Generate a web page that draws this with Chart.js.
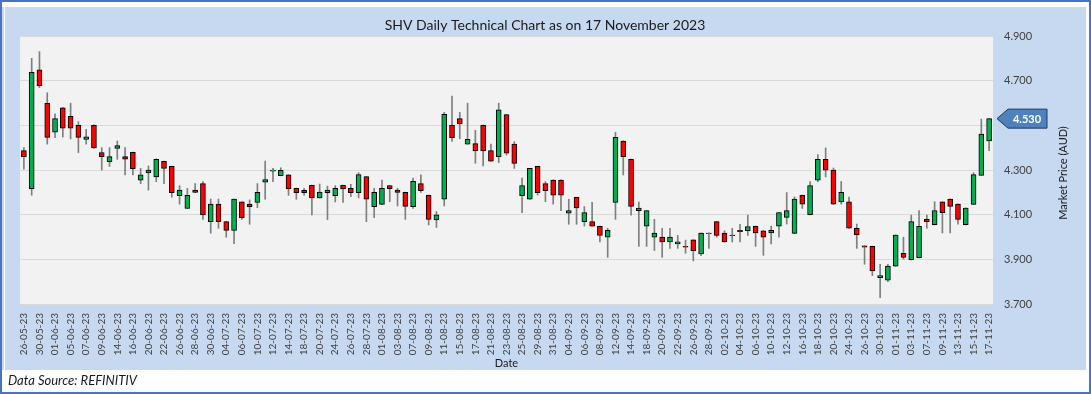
<!DOCTYPE html>
<html>
<head>
<meta charset="utf-8">
<script src="https://cdn.jsdelivr.net/npm/chart.js@4.4.0/dist/chart.umd.min.js"></script>
<style>
  html, body { margin: 0; padding: 0; background: #fff; }
</style>
</head>
<body>
<canvas id="chart" width="1091" height="394"></canvas>
<script>
// trading days, 26 May - 17 Nov 2023
const dates = [
  "26-05-23","29-05-23","30-05-23","31-05-23",
  "01-06-23","02-06-23","05-06-23","06-06-23","07-06-23","08-06-23","09-06-23","13-06-23","14-06-23","15-06-23",
  "16-06-23","19-06-23","20-06-23","21-06-23","22-06-23","23-06-23","26-06-23","27-06-23","28-06-23","29-06-23","30-06-23",
  "03-07-23","04-07-23","05-07-23","06-07-23","07-07-23","10-07-23","11-07-23","12-07-23","13-07-23","14-07-23","17-07-23",
  "18-07-23","19-07-23","20-07-23","21-07-23","24-07-23","25-07-23","26-07-23","27-07-23","28-07-23","31-07-23",
  "01-08-23","02-08-23","03-08-23","04-08-23","07-08-23","08-08-23","09-08-23","10-08-23","11-08-23","14-08-23","15-08-23",
  "16-08-23","17-08-23","18-08-23","21-08-23","22-08-23","23-08-23","24-08-23","25-08-23","28-08-23","29-08-23","30-08-23","31-08-23",
  "01-09-23","04-09-23","05-09-23","06-09-23","07-09-23","08-09-23","11-09-23","12-09-23","13-09-23","14-09-23","15-09-23",
  "18-09-23","19-09-23","20-09-23","21-09-23","22-09-23","25-09-23","26-09-23","27-09-23","28-09-23","29-09-23",
  "02-10-23","03-10-23","04-10-23","05-10-23","06-10-23","09-10-23","10-10-23","11-10-23","12-10-23","13-10-23","16-10-23",
  "17-10-23","18-10-23","19-10-23","20-10-23","23-10-23","24-10-23","25-10-23","26-10-23","27-10-23","30-10-23","31-10-23",
  "01-11-23","02-11-23","03-11-23","06-11-23","07-11-23","08-11-23","09-11-23","10-11-23","13-11-23","14-11-23","15-11-23",
  "16-11-23","17-11-23"
];

const open = [
  4.387,4.216,4.748,4.599,4.469,4.578,4.540,4.500,4.437,4.500,4.378,4.337,4.397,4.360,4.379,4.255,
  4.287,4.269,4.339,4.316,4.185,4.128,4.210,4.239,4.069,4.147,4.069,4.030,4.157,4.147,4.155,
  4.246,4.295,4.275,4.278,4.218,4.209,4.231,4.175,4.199,4.185,4.231,4.218,4.199,4.270,4.136,4.146,
  4.230,4.210,4.200,4.136,4.239,4.187,4.077,4.169,4.501,4.530,4.416,4.418,4.500,4.387,4.360,
  4.548,4.416,4.185,4.169,4.316,4.239,4.255,4.255,4.107,4.178,4.069,4.069,4.048,3.999,4.155,
  4.430,4.348,4.118,4.048,3.999,4.000,3.978,3.969,3.958,3.987,3.924,4.015,4.069,4.018,4.009,4.030,
  4.028,4.048,4.028,4.018,4.048,4.088,4.016,4.187,4.100,4.255,4.348,4.300,4.157,4.157,4.039,
  3.960,3.958,3.818,3.807,3.869,3.927,3.898,3.907,4.079,4.055,4.157,4.170,4.147,4.055,4.146,4.276,4.430
];
const high = [
  4.400,4.800,4.830,4.646,4.552,4.580,4.599,4.516,4.482,4.502,4.400,4.400,4.430,4.400,4.380,4.307,
  4.318,4.350,4.340,4.317,4.230,4.218,4.239,4.248,4.170,4.170,4.070,4.170,4.157,4.166,4.239,
  4.340,4.307,4.310,4.279,4.219,4.218,4.232,4.237,4.228,4.230,4.232,4.236,4.288,4.271,4.218,4.255,
  4.231,4.218,4.201,4.264,4.278,4.188,4.114,4.558,4.631,4.558,4.599,4.478,4.501,4.416,4.599,
  4.549,4.427,4.264,4.308,4.317,4.248,4.256,4.256,4.169,4.179,4.136,4.155,4.049,4.039,4.469,
  4.431,4.349,4.157,4.119,4.079,4.039,4.039,4.007,3.986,3.988,4.019,4.019,4.070,4.028,4.039,4.057,
  4.098,4.049,4.029,4.049,4.110,4.199,4.179,4.188,4.248,4.369,4.399,4.309,4.249,4.179,4.058,
  3.961,3.959,3.878,3.878,4.010,3.999,4.098,4.118,4.098,4.158,4.158,4.171,4.148,4.131,4.288,4.528,4.530
];
const low = [
  4.304,4.187,4.669,4.416,4.445,4.448,4.439,4.378,4.416,4.397,4.300,4.316,4.348,4.278,4.278,4.239,
  4.210,4.248,4.239,4.178,4.147,4.127,4.199,4.079,4.017,4.039,3.999,3.970,4.079,4.057,4.131,
  4.169,4.248,4.274,4.187,4.169,4.187,4.099,4.174,4.078,4.157,4.155,4.181,4.175,4.069,4.087,4.145,
  4.158,4.139,4.079,4.128,4.200,4.054,4.043,4.139,4.428,4.440,4.415,4.330,4.318,4.338,4.333,
  4.367,4.307,4.109,4.168,4.188,4.158,4.147,4.118,4.057,4.057,4.049,4.047,3.978,3.909,4.079,
  4.278,4.098,3.958,3.958,3.939,3.909,3.949,3.949,3.927,3.893,3.916,3.949,3.999,3.977,3.978,3.978,
  4.007,3.958,3.918,3.969,3.999,4.058,4.015,4.128,4.099,4.248,4.269,4.146,4.147,4.038,3.949,
  3.878,3.827,3.728,3.800,3.868,3.901,3.897,3.906,4.039,4.054,4.018,4.018,4.058,4.054,4.145,4.275,4.387
];
const close = [
  4.360,4.737,4.676,4.446,4.530,4.487,4.487,4.446,4.448,4.399,4.360,4.360,4.409,4.348,4.306,4.278,
  4.300,4.348,4.307,4.199,4.210,4.187,4.200,4.099,4.147,4.069,4.030,4.170,4.087,4.136,4.200,
  4.257,4.300,4.298,4.215,4.199,4.199,4.175,4.201,4.210,4.218,4.215,4.199,4.279,4.169,4.200,4.218,
  4.216,4.200,4.137,4.249,4.207,4.079,4.099,4.549,4.445,4.507,4.437,4.385,4.385,4.339,4.569,
  4.375,4.330,4.230,4.307,4.199,4.207,4.187,4.187,4.118,4.130,4.109,4.048,4.007,4.030,4.446,
  4.360,4.137,4.130,4.118,4.018,3.978,4.000,3.978,3.955,3.939,4.018,4.018,4.007,3.978,4.006,4.024,
  4.047,4.018,3.999,4.030,4.109,4.118,4.170,4.147,4.230,4.348,4.299,4.147,4.200,4.039,4.009,
  3.955,3.848,3.827,3.870,4.009,3.909,4.069,4.048,4.069,4.118,4.109,4.137,4.079,4.130,4.279,4.461,4.530
];

const yTicks = [3.7, 3.9, 4.1, 4.3, 4.5, 4.7, 4.9];

const UP = "#00b050";
const DOWN = "#ff0000";
const FONT = "Lato";
const lastClose = close[close.length - 1];

// background panel, plot fill and the extra texts
const framePlugin = {
  id: "frame",
  beforeDraw(chart) {
    const { ctx, chartArea } = chart;
    ctx.save();
    ctx.fillStyle = "#ffffff";
    ctx.fillRect(0, 0, chart.width, chart.height);
    ctx.fillStyle = "#c6d9f1";
    ctx.fillRect(5, 7, chart.width - 10, 363);
    ctx.fillRect(0, 7, 4, 363);
    ctx.strokeStyle = "#4a74bf";
    ctx.lineWidth = 2;
    ctx.strokeRect(1, 1, chart.width - 2, chart.height - 2);
    ctx.fillStyle = "#f2f2f2";
    ctx.fillRect(chartArea.left, chartArea.top, chartArea.right - chartArea.left, chartArea.bottom - chartArea.top);
    ctx.restore();
  },
  afterDraw(chart) {
    const { ctx, chartArea } = chart;
    const yScale = chart.scales.y;
    ctx.save();
    // title
    ctx.fillStyle = "#1a1a1a";
    ctx.font = "14px " + FONT;
    ctx.textAlign = "center";
    ctx.textBaseline = "middle";
    ctx.fillText("SHV Daily Technical Chart as on 17 November 2023", 545, 25);
    // y axis title, reading upwards
    ctx.save();
    ctx.translate(1063, (chartArea.top + chartArea.bottom) / 2 + 3);
    ctx.rotate(-Math.PI / 2);
    ctx.font = "11px " + FONT;
    ctx.fillStyle = "#1a1a1a";
    ctx.fillText("Market Price (AUD)", 0, 0);
    ctx.restore();
    // data source
    ctx.font = "italic 13px " + FONT;
    ctx.textAlign = "left";
    ctx.fillStyle = "#1a1a1a";
    ctx.fillText("Data Source: REFINITIV", 8, 381);
    // last price tag
    const y = yScale.getPixelForValue(lastClose);
    const x0 = chartArea.right + 4;
    ctx.beginPath();
    ctx.moveTo(x0, y);
    ctx.lineTo(x0 + 11, y - 9.5);
    ctx.lineTo(x0 + 50, y - 9.5);
    ctx.lineTo(x0 + 50, y + 9.5);
    ctx.lineTo(x0 + 11, y + 9.5);
    ctx.closePath();
    ctx.fillStyle = "#4f81bd";
    ctx.fill();
    ctx.strokeStyle = "#1f3864";
    ctx.lineWidth = 1;
    ctx.stroke();
    ctx.fillStyle = "#ffffff";
    ctx.font = "bold 11px " + FONT;
    ctx.textAlign = "center";
    ctx.fillText(lastClose.toFixed(3), x0 + 30, y + 0.5);
    ctx.restore();
  }
};

new Chart(document.getElementById("chart"), {
  type: "bar",
  data: {
    labels: dates,
    datasets: [
      {
        label: "body",
        data: open.map((o, i) => [o, close[i]]),
        backgroundColor: (c) => (close[c.dataIndex] >= open[c.dataIndex] ? UP : DOWN),
        borderColor: "#000000",
        borderWidth: 1,
        borderSkipped: false,
        barThickness: 5,
        grouped: false
      },
      {
        label: "wick",
        data: low.map((l, i) => [l, high[i]]),
        backgroundColor: "#7f7f7f",
        borderWidth: 0,
        barThickness: 1,
        grouped: false
      }
    ]
  },
  options: {
    responsive: false,
    animation: false,
    layout: { padding: { left: 20, top: 36, right: 0, bottom: 0 } },
    plugins: {
      legend: { display: false },
      tooltip: { enabled: false },
      title: { display: false }
    },
    scales: {
      x: {
        grid: { display: false, drawTicks: false },
        border: { display: false },
        ticks: {
          autoSkip: false,
          minRotation: 90,
          maxRotation: 90,
          padding: 9,
          color: "#404040",
          font: { family: FONT, size: 10 },
          callback: function (val, idx) {
            return idx % 2 === 0 ? this.getLabelForValue(val) : "";
          }
        },
        title: {
          display: true,
          text: "Date",
          color: "#1a1a1a",
          font: { family: FONT, size: 11 },
          padding: { top: 0, bottom: 24 }
        },
        afterFit(scale) { scale.height = 90; }
      },
      y: {
        position: "right",
        min: 3.7,
        max: 4.9,
        afterBuildTicks(scale) { scale.ticks = yTicks.map((v) => ({ value: v })); },
        grid: { color: "#d9d9d9", drawTicks: false },
        border: { display: false },
        ticks: {
          padding: 11,
          color: "#404040",
          font: { family: FONT, size: 11 },
          callback: (v) => (Math.abs(v - lastClose) < 0.05 ? "" : v.toFixed(3))
        },
        afterFit(scale) { scale.width = 98; }
      }
    }
  },
  plugins: [framePlugin]
});
</script>
</body>
</html>
